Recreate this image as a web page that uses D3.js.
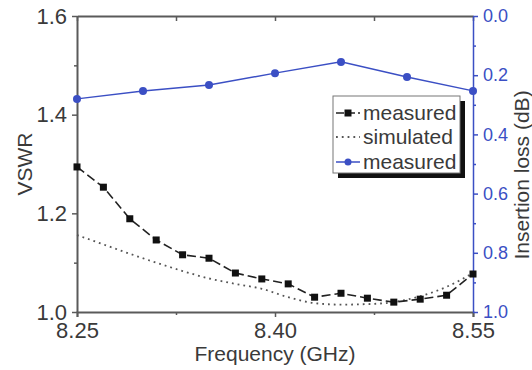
<!DOCTYPE html>
<html>
<head>
<meta charset="utf-8">
<script src="https://cdn.jsdelivr.net/npm/d3@7"></script>
<style>
  body { margin: 0; background: #fff; }
  svg { font-family: "Liberation Sans", Arial, sans-serif; }
</style>
</head>
<body>
<svg id="chart"></svg>
<script>
// VSWR data (left axis)
const freqs = [8.25, 8.27, 8.29, 8.31, 8.33, 8.35, 8.37, 8.39, 8.41, 8.43, 8.45, 8.47, 8.49, 8.51, 8.53, 8.55];
const vswrMeasured = [1.294, 1.253, 1.189, 1.146, 1.116, 1.109, 1.079, 1.067, 1.057, 1.030, 1.038, 1.028, 1.020, 1.026, 1.034, 1.077];
const vswrSimulated = [1.156, 1.137, 1.118, 1.100, 1.083, 1.068, 1.057, 1.047, 1.030, 1.018, 1.015, 1.016, 1.020, 1.032, 1.051, 1.079];

// insertion loss data (right axis)
const lossFreqs = [8.25, 8.30, 8.35, 8.40, 8.45, 8.50, 8.55];
const insertionLoss = [0.28, 0.253, 0.233, 0.193, 0.155, 0.206, 0.253];

// ticks
const xTicks = [8.25, 8.40, 8.55];
const xMinor = [8.325, 8.475];
const yTicks = [1.0, 1.2, 1.4, 1.6];
const yMinor = [1.1, 1.3, 1.5];
const y2Ticks = [0.0, 0.2, 0.4, 0.6, 0.8, 1.0];
const y2Minor = [0.1, 0.3, 0.5, 0.7, 0.9];

const legendItems = ["measured", "simulated", "measured"];

const W = 532, H = 370;
const margin = {top: 16, right: 59, bottom: 58, left: 77};
const width = W - margin.left - margin.right;
const height = H - margin.top - margin.bottom;

const axisGray = "#5a5a5a";
const textGray = "#3a3a3a";
const blue = "#3b4fc4";

const svg = d3.select("#chart").attr("width", W).attr("height", H);
const g = svg.append("g").attr("transform", `translate(${margin.left},${margin.top})`);

const x = d3.scaleLinear().domain([8.25, 8.55]).range([0, width]);
const y = d3.scaleLinear().domain([1.0, 1.6]).range([height, 0]);
const y2 = d3.scaleLinear().domain([0, 1.0]).range([0, height]);

// helper to style an axis group
function styleAxis(sel, color, fontSize, textColor) {
  sel.select(".domain").attr("stroke", color).attr("stroke-width", 2);
  sel.selectAll(".tick line").attr("stroke", color).attr("stroke-width", 1.5);
  sel.selectAll(".tick text").attr("fill", textColor).style("font-size", fontSize + "px");
}

// bottom axis
const xAxisG = g.append("g").attr("transform", `translate(0,${height})`)
  .call(d3.axisBottom(x).tickValues(xTicks).tickFormat(d3.format(".2f")).tickSize(5).tickPadding(5));
styleAxis(xAxisG, axisGray, 22, textGray);
g.append("g").attr("transform", `translate(0,${height})`)
  .call(d3.axisBottom(x).tickValues(xMinor).tickFormat("").tickSize(3).tickSizeOuter(0))
  .call(s => { s.select(".domain").remove(); s.selectAll("line").attr("stroke", axisGray).attr("stroke-width", 1.5); });

// top axis (inward ticks)
const topG = g.append("g")
  .call(d3.axisBottom(x).tickValues(xTicks.concat(xMinor)).tickFormat("").tickSize(5).tickSizeOuter(0));
topG.select(".domain").attr("stroke", axisGray).attr("stroke-width", 2);
topG.selectAll("line").attr("stroke", axisGray).attr("stroke-width", 1.5);

// left axis
const yAxisG = g.append("g")
  .call(d3.axisLeft(y).tickValues(yTicks).tickFormat(d3.format(".1f")).tickSize(5).tickPadding(5).tickSizeOuter(0));
styleAxis(yAxisG, axisGray, 22, textGray);
g.append("g")
  .call(d3.axisLeft(y).tickValues(yMinor).tickFormat("").tickSize(3).tickSizeOuter(0))
  .call(s => { s.select(".domain").remove(); s.selectAll("line").attr("stroke", axisGray).attr("stroke-width", 1.5); });

// right axis (blue)
const y2AxisG = g.append("g").attr("transform", `translate(${width},0)`)
  .call(d3.axisRight(y2).tickValues(y2Ticks).tickFormat(d3.format(".1f")).tickSize(5).tickPadding(5).tickSizeOuter(0));
styleAxis(y2AxisG, blue, 18, blue);
y2AxisG.select(".domain").attr("stroke-width", 1.5);
g.append("g").attr("transform", `translate(${width},0)`)
  .call(d3.axisRight(y2).tickValues(y2Minor).tickFormat("").tickSize(3).tickSizeOuter(0))
  .call(s => { s.select(".domain").remove(); s.selectAll("line").attr("stroke", blue).attr("stroke-width", 1.5); });

// simulated VSWR (dotted)
const lineV = d3.line().x((d, i) => x(freqs[i])).y(d => y(d)).curve(d3.curveMonotoneX);
g.append("path").datum(vswrSimulated)
  .attr("d", lineV)
  .attr("fill", "none").attr("stroke", "#555").attr("stroke-width", 1.8)
  .attr("stroke-dasharray", "1.8,4");

// measured VSWR (dashed + squares)
const lineM = d3.line().x((d, i) => x(freqs[i])).y(d => y(d));
g.append("path").datum(vswrMeasured)
  .attr("d", lineM)
  .attr("fill", "none").attr("stroke", "#222").attr("stroke-width", 1.6)
  .attr("stroke-dasharray", "9,4");
g.selectAll(".sq").data(vswrMeasured).join("rect")
  .attr("x", (d, i) => x(freqs[i]) - 3.5)
  .attr("y", d => y(d) - 3.5)
  .attr("width", 7).attr("height", 7)
  .attr("fill", "#111");

// insertion loss (blue line + dots)
const lineL = d3.line().x((d, i) => x(lossFreqs[i])).y(d => y2(d));
g.append("path").datum(insertionLoss)
  .attr("d", lineL)
  .attr("fill", "none").attr("stroke", blue).attr("stroke-width", 1.5);
g.selectAll(".dot").data(insertionLoss).join("circle")
  .attr("cx", (d, i) => x(lossFreqs[i]))
  .attr("cy", d => y2(d))
  .attr("r", 4)
  .attr("fill", blue);

// axis titles
svg.append("text")
  .attr("transform", `translate(32,${margin.top + height / 2}) rotate(-90)`)
  .attr("text-anchor", "middle")
  .attr("fill", textGray).style("font-size", "21px")
  .text("VSWR");
svg.append("text")
  .attr("x", margin.left + width / 2).attr("y", 361)
  .attr("text-anchor", "middle")
  .attr("fill", textGray).style("font-size", "21px")
  .text("Frequency (GHz)");
svg.append("text")
  .attr("transform", `translate(529,175) rotate(-90)`)
  .attr("text-anchor", "middle")
  .attr("fill", textGray).style("font-size", "21px")
  .text("Insertion loss (dB)");

// legend
const lg = svg.append("g").attr("transform", "translate(333,96)");
lg.append("rect").attr("x", 5).attr("y", 5).attr("width", 127).attr("height", 77).attr("fill", "#111");
lg.append("rect").attr("x", 0).attr("y", 0).attr("width", 127).attr("height", 77)
  .attr("fill", "#fff").attr("stroke", "#777").attr("stroke-width", 1);

const rowY = [17, 41, 66];
legendItems.forEach((name, i) => {
  const ry = rowY[i];
  const row = lg.append("g");
  if (i === 0) {
    row.append("line").attr("x1", 3).attr("x2", 27).attr("y1", ry).attr("y2", ry)
      .attr("stroke", "#222").attr("stroke-width", 1.6).attr("stroke-dasharray", "8,3");
    row.append("rect").attr("x", 11.5).attr("y", ry - 3.5).attr("width", 7).attr("height", 7).attr("fill", "#111");
  } else if (i === 1) {
    row.append("line").attr("x1", 3).attr("x2", 27).attr("y1", ry).attr("y2", ry)
      .attr("stroke", "#555").attr("stroke-width", 1.8).attr("stroke-dasharray", "1.8,4");
  } else {
    row.append("line").attr("x1", 3).attr("x2", 27).attr("y1", ry).attr("y2", ry)
      .attr("stroke", blue).attr("stroke-width", 1.5);
    row.append("circle").attr("cx", 15).attr("cy", ry).attr("r", 3.5).attr("fill", blue);
  }
  row.append("text").attr("x", 30).attr("y", ry + 7)
    .attr("fill", textGray).style("font-size", "21px")
    .text(name);
});
</script>
</body>
</html>
